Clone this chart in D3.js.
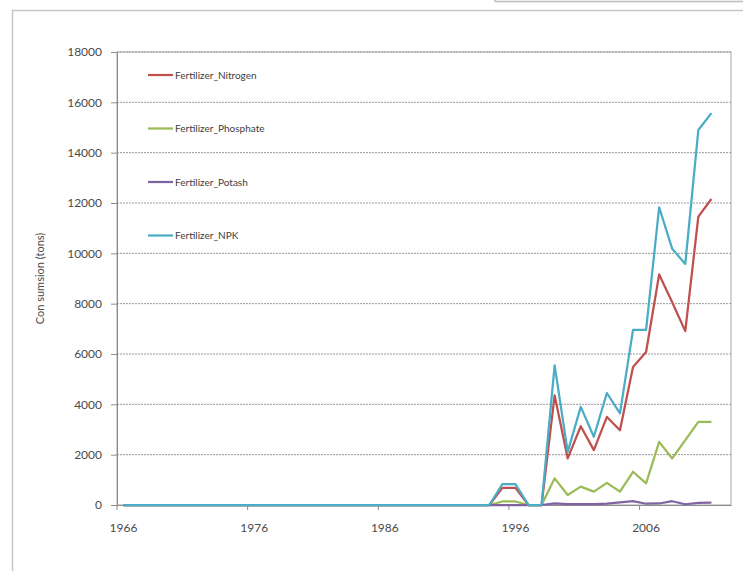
<!DOCTYPE html>
<html>
<head>
<meta charset="utf-8">
<script src="https://cdn.jsdelivr.net/npm/d3@7"></script>
<style>
  html, body { margin: 0; padding: 0; background: #fff; }
  svg { display: block; }
</style>
</head>
<body>
<svg id="chart" width="743" height="571"></svg>
<script>
// Fertilizer consumption by year (tons)
const years = d3.range(1966, 2013);            // 1966 … 2012 category slots
const labelYears = [1966, 1976, 1986, 1996, 2006];
const yTicks = d3.range(0, 18001, 2000);

// Values from 1966 to 2011; 2012 has no entry
const zeros = n => Array(n).fill(0);           // 1966–1994 all zero (29 years)
const nitrogen  = [...zeros(29), 680, 680, 0, 0, 4360, 1850, 3130, 2180, 3500, 2970, 5480, 6080, 9160, 8060, 6910, 11460, 12160];
const phosphate = [...zeros(29), 140, 140, 0, 0, 1060, 400, 730, 530, 880, 530, 1320, 860, 2510, 1850, 2580, 3300, 3300];
const potash    = [...zeros(29), 0, 0, 0, 0, 60, 30, 30, 30, 50, 100, 150, 50, 60, 150, 30, 80, 90];
const npk       = [...zeros(29), 830, 830, 0, 0, 5550, 2110, 3900, 2710, 4450, 3640, 6960, 6960, 11830, 10180, 9580, 14900, 15570];

const seriesNames  = ["Fertilizer_Nitrogen", "Fertilizer_Phosphate", "Fertilizer_Potash", "Fertilizer_NPK"];
const seriesValues = [nitrogen, phosphate, potash, npk];
const seriesColors = ["#C0504D", "#9BBB59", "#8064A2", "#4BACC6"];

const svg = d3.select("#chart");
const font = "Lato, 'Open Sans', sans-serif";

// frames around the chart object and the neighbouring box above it
svg.append("path")
  .attr("d", "M495,0 L495,1.5 L743,1.5")
  .attr("fill", "none").attr("stroke", "#bdbdbd").attr("stroke-width", 1.5);
svg.append("rect")
  .attr("x", 12.5).attr("y", 10.5).attr("width", 740).attr("height", 570)
  .attr("fill", "#fff").attr("stroke", "#c6c6c6").attr("stroke-width", 1.5);

const plot = { left: 117, right: 731, top: 52, bottom: 505 };

const x = d3.scaleBand().domain(years).range([plot.left, plot.right]).padding(0);
const bw = x.bandwidth();
const cx = yr => x(yr) + bw / 2;
const y = d3.scaleLinear().domain([0, 18000]).range([plot.bottom, plot.top]);

// gridlines
svg.append("g")
  .selectAll("line")
  .data(yTicks.filter(v => v > 0))
  .join("line")
  .attr("x1", plot.left).attr("x2", plot.right)
  .attr("y1", d => y(d)).attr("y2", d => y(d))
  .attr("stroke", "#9a9a9a").attr("stroke-width", 1)
  .attr("stroke-dasharray", "2,1");

// plot area border
svg.append("rect")
  .attr("x", plot.left).attr("y", plot.top)
  .attr("width", plot.right - plot.left).attr("height", plot.bottom - plot.top)
  .attr("fill", "none").attr("stroke", "#a6a6a6").attr("stroke-width", 1);

// y axis
const yAxis = svg.append("g")
  .attr("transform", `translate(${plot.left},0)`)
  .call(d3.axisLeft(y).tickValues(yTicks).tickFormat(d3.format("d"))
    .tickSize(6).tickPadding(9).tickSizeOuter(0));
yAxis.select(".domain").attr("stroke", "#8c8c8c");
yAxis.selectAll(".tick line").attr("stroke", "#8c8c8c");
yAxis.selectAll("text").attr("font-family", font).attr("font-size", 12).attr("fill", "#4a4a4a");

// x axis: labels centred in their category, tick marks on category boundaries
const xAxis = svg.append("g")
  .attr("transform", `translate(0,${plot.bottom})`)
  .call(d3.axisBottom(x).tickValues(labelYears).tickFormat(d3.format("d"))
    .tickSize(5).tickPadding(13).tickSizeOuter(0));
xAxis.select(".domain").attr("stroke", "#8c8c8c");
xAxis.selectAll(".tick line").attr("stroke", "#8c8c8c").attr("x1", -bw / 2).attr("x2", -bw / 2);
xAxis.selectAll("text").attr("font-family", font).attr("font-size", 12).attr("fill", "#4a4a4a");

// axis title
svg.append("text")
  .attr("transform", `translate(44,${(plot.top + plot.bottom) / 2}) rotate(-90)`)
  .attr("text-anchor", "middle")
  .attr("font-family", font).attr("font-size", 11).attr("fill", "#4a4a4a")
  .text("Con sumsion (tons)");

// series lines
const line = d3.line()
  .defined(d => d.v != null)
  .x(d => cx(d.year))
  .y(d => y(d.v));

seriesValues.forEach((vals, i) => {
  const pts = vals.map((v, k) => ({ year: years[k], v }));
  svg.append("path")
    .datum(pts)
    .attr("d", line)
    .attr("fill", "none")
    .attr("stroke", seriesColors[i])
    .attr("stroke-width", 2.25)
    .attr("stroke-linejoin", "round");
});

// legend
const legend = svg.append("g").attr("transform", "translate(148,75)");
seriesNames.forEach((name, i) => {
  const g = legend.append("g").attr("transform", `translate(0,${i * 53.5})`);
  g.append("line").attr("x1", 0).attr("x2", 25).attr("y1", 0).attr("y2", 0)
    .attr("stroke", seriesColors[i]).attr("stroke-width", 2.25);
  g.append("text").attr("x", 27).attr("y", 0).attr("dy", "0.35em")
    .attr("font-family", font).attr("font-size", 10).attr("fill", "#404040")
    .text(name);
});
</script>
</body>
</html>
